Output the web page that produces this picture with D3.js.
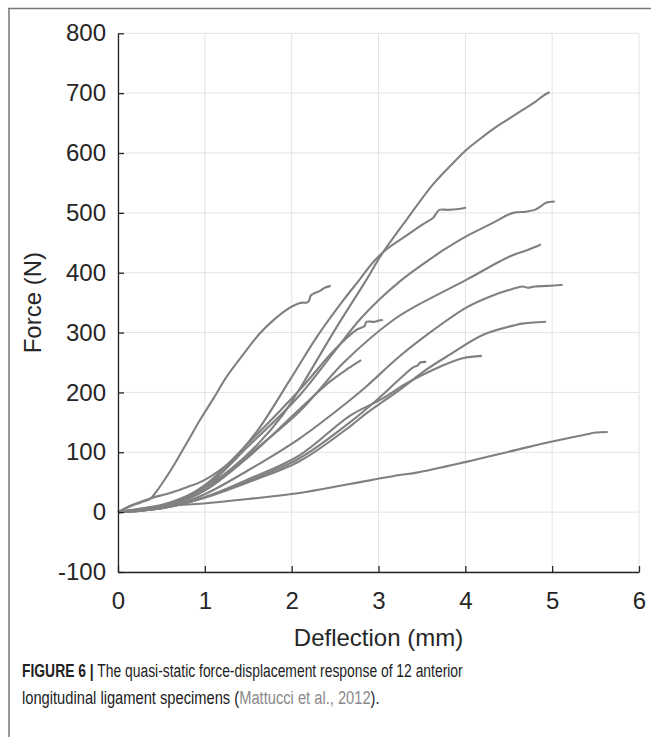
<!DOCTYPE html>
<html>
<head>
<meta charset="utf-8">
<script src="https://cdn.jsdelivr.net/npm/d3@7"></script>
<style>
  body { margin: 0; background: #fff; }
  svg { display: block; font-family: "Liberation Sans", Arial, Helvetica, sans-serif; }
</style>
</head>
<body>
<svg id="chart" width="651" height="737"></svg>
<script>
// tick values
const xTicks = [0, 1, 2, 3, 4, 5, 6];
const yTicks = [-100, 0, 100, 200, 300, 400, 500, 600, 700, 800];

// specimens, [deflection mm, force N]
const specA = [[0,0],[0.1,7],[0.2,13],[0.3,18],[0.37,22],[0.45,36],[0.55,57],[0.65,80],[0.75,105],[0.85,130],[0.94,153],[1.1,190],[1.25,226],[1.45,265],[1.63,298],[1.8,322],[1.94,338],[2.05,347],[2.12,350],[2.17,350],[2.2,353],[2.22,362],[2.28,367],[2.33,370],[2.38,375],[2.45,378]];
const specB = [[0,0],[0.3,6],[0.6,16],[1,42],[1.3,72],[1.6,112],[1.9,163],[2.13,215],[2.5,305],[2.86,388],[3.02,427],[3.32,488],[3.63,548],[3.85,582],[4.01,605],[4.2,627],[4.36,644],[4.5,657],[4.66,672],[4.8,685],[4.9,696],[4.97,702]];
const specC = [[0,0],[0.1,8],[0.2,14],[0.37,23],[0.6,32],[0.8,42],[1,54],[1.3,85],[1.6,135],[1.98,221],[2.3,295],[2.6,355],[2.78,388],[2.94,418],[3.1,440],[3.32,462],[3.5,480],[3.63,492],[3.66,498],[3.7,505],[3.8,505],[3.9,506],[4.01,509]];
const specD = [[0,0],[0.3,5],[0.6,14],[1,42],[1.5,110],[2.09,195],[2.5,270],[2.78,321],[3.0,354],[3.25,386],[3.5,413],[3.75,438],[4.0,460],[4.3,482],[4.55,500],[4.7,502],[4.8,505],[4.86,510],[4.93,517],[5.03,519]];
const specE = [[0,0],[0.3,5],[0.6,13],[1,38],[1.5,95],[2.09,168],[2.6,250],[3.17,321],[3.44,345],[4.01,388],[4.51,427],[4.7,437],[4.87,447]];
const specF = [[0,0],[0.3,4],[0.6,10],[1,30],[1.5,70],[2.09,123],[2.67,187],[2.86,210],[3.24,260],[3.63,304],[4.0,341],[4.28,360],[4.5,371],[4.66,377],[4.72,375],[4.8,377],[4.95,378],[5.12,380]];
const specG = [[0,0],[0.3,5],[0.6,14],[1,45],[1.5,115],[2.09,204],[2.5,272],[2.75,305],[2.84,311],[2.86,318],[2.95,318],[3.0,320],[3.05,321]];
const specH = [[0,0],[0.3,5],[0.6,12],[1,36],[1.5,92],[2.09,172],[2.44,218],[2.65,240],[2.8,254]];
const specI = [[0,0],[0.3,3],[0.6,9],[1,24],[1.5,50],[2.09,85],[2.67,143],[2.86,165],[3.24,204],[3.55,238],[3.82,263],[4.2,296],[4.59,313],[4.65,315],[4.93,318]];
const specJ = [[0,0],[0.3,3],[0.6,9],[1,25],[1.5,52],[2.09,90],[2.67,150],[3.0,190],[3.24,222],[3.4,242],[3.45,245],[3.48,250],[3.55,251]];
const specK = [[0,0],[0.3,3],[0.6,9],[1,25],[1.5,55],[2.09,95],[2.67,161],[3.05,190],[3.32,215],[3.63,238],[3.97,257],[4.19,261]];
const specL = [[0,0],[0.3,7],[0.6,11],[0.94,14],[1.5,22],[2.09,32],[2.67,47],[3.245,62],[3.44,66],[4.01,84],[4.59,104],[5.0,118],[5.4,130],[5.5,133],[5.64,134]];

const specimens = [specL, specK, specJ, specI, specH, specG, specF, specE, specD, specC, specB, specA];

const svg = d3.select('#chart');

// outer frame of the figure panel
svg.append('line')
  .attr('x1', 8).attr('x2', 651).attr('y1', 8.5).attr('y2', 8.5)
  .attr('stroke', '#777').attr('stroke-width', 1.5);
svg.append('line')
  .attr('x1', 9).attr('x2', 9).attr('y1', 8).attr('y2', 737)
  .attr('stroke', '#777').attr('stroke-width', 1.5);

const x = d3.scaleLinear().domain([0, 6]).range([118, 639]);
const y = d3.scaleLinear().domain([-100, 800]).range([572, 33.3]);

// grid
const grid = svg.append('g').attr('stroke', '#e3e3e3').attr('stroke-width', 1);
grid.selectAll('.gx').data(xTicks).enter().append('line')
  .attr('x1', d => x(d)).attr('x2', d => x(d))
  .attr('y1', y(-100)).attr('y2', y(800));
grid.selectAll('.gy').data(yTicks).enter().append('line')
  .attr('x1', x(0)).attr('x2', x(6))
  .attr('y1', d => y(d)).attr('y2', d => y(d));

// curves
const line = d3.line()
  .x(d => x(d[0]))
  .y(d => y(d[1]))
  .curve(d3.curveCatmullRom.alpha(0.5));

svg.append('g').selectAll('path').data(specimens).enter().append('path')
  .attr('d', line)
  .attr('fill', 'none')
  .attr('stroke', '#808080')
  .attr('stroke-width', 2.1)
  .attr('stroke-linejoin', 'round');

// axes
const fmt = d => String(d);
const yAxis = svg.append('g')
  .attr('transform', `translate(${x(0)},0)`)
  .call(d3.axisLeft(y).tickValues(yTicks).tickFormat(fmt)
    .tickSizeInner(-6).tickSizeOuter(0).tickPadding(12));
const xAxis = svg.append('g')
  .attr('transform', `translate(0,${y(-100)})`)
  .call(d3.axisBottom(x).tickValues(xTicks).tickFormat(fmt)
    .tickSizeInner(-6).tickSizeOuter(0).tickPadding(20));

[yAxis, xAxis].forEach(a => {
  a.select('.domain').attr('stroke', '#262626').attr('stroke-width', 1.3);
  a.selectAll('.tick line').attr('stroke', '#262626').attr('stroke-width', 1.3);
  a.selectAll('.tick text')
    .attr('fill', '#262626')
    .style('font-size', '24px')
    .style('font-family', '"Liberation Sans", Arial, sans-serif');
});

// axis titles
svg.append('text')
  .attr('transform', `translate(41,${y(350)}) rotate(-90)`)
  .attr('text-anchor', 'middle')
  .attr('fill', '#262626')
  .style('font-size', '24px')
  .text('Force (N)');

svg.append('text')
  .attr('x', x(3)).attr('y', 646)
  .attr('text-anchor', 'middle')
  .attr('fill', '#262626')
  .style('font-size', '24px')
  .text('Deflection (mm)');

// caption, condensed by a horizontal scale to the width it has in the figure
function caption(yPos, width, parts) {
  const t = svg.append('text')
    .attr('fill', '#222')
    .style('font-size', '19px');
  parts.forEach(p => {
    const s = t.append('tspan').text(p.text);
    if (p.bold) s.attr('font-weight', 'bold');
    if (p.color) s.attr('fill', p.color);
  });
  const w = t.node().getComputedTextLength();
  t.attr('transform', `translate(22,${yPos}) scale(${width / w},1)`);
}
caption(677, 441, [
  { text: 'FIGURE 6 |', bold: true },
  { text: ' The quasi-static force-displacement response of 12 anterior' }
]);
caption(704, 358, [
  { text: 'longitudinal ligament specimens (' },
  { text: 'Mattucci et al., 2012', color: '#8a8a8a' },
  { text: ').' }
]);
</script>
</body>
</html>
